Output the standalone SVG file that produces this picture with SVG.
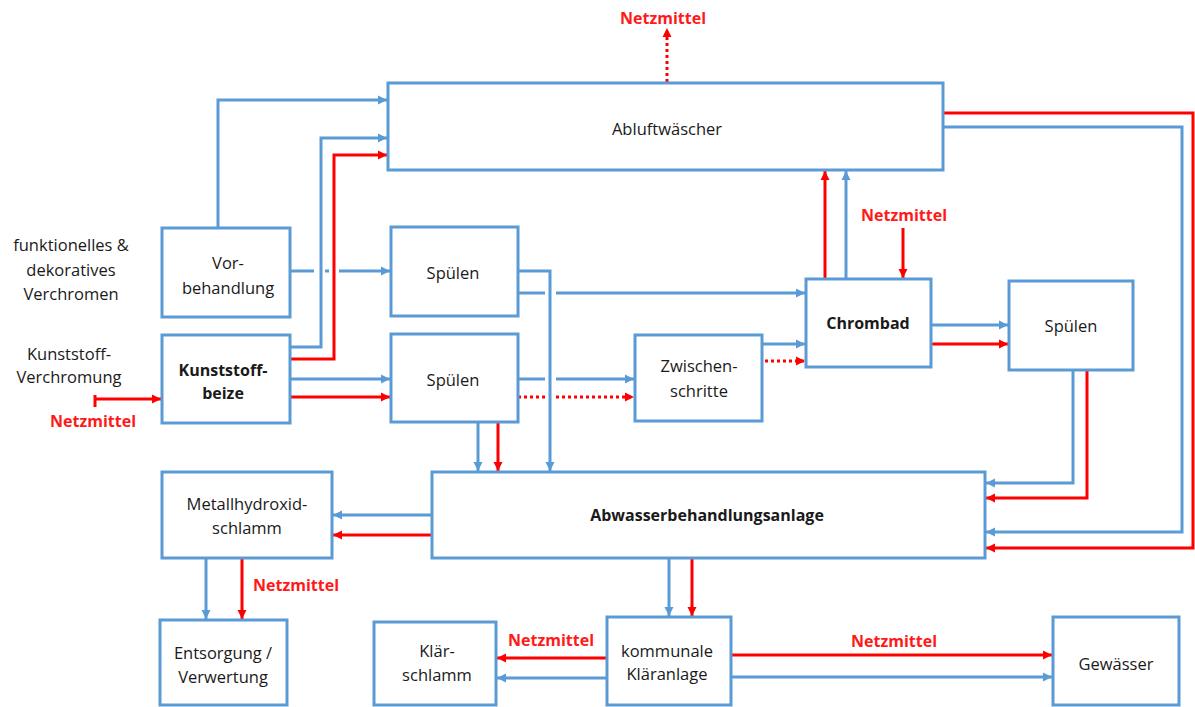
<svg xmlns="http://www.w3.org/2000/svg" width="1195" height="707" viewBox="0 0 1195 707">
<style>
.box{fill:#fff;stroke:#5B9BD5;stroke-width:3}
.t{font-family:"Open Sans","Noto Sans",sans-serif;font-size:16.5px;fill:#1a1a1a;text-anchor:middle;dominant-baseline:central}
.b{font-weight:bold;font-size:16px}
.n{font-family:"Open Sans","Noto Sans",sans-serif;font-size:16px;font-weight:bold;fill:#FF1A1A;text-anchor:middle;dominant-baseline:central}
.bl{fill:none;stroke:#5B9BD5;stroke-width:3}
.rd{fill:none;stroke:#FF0000;stroke-width:3}
.dot{stroke-dasharray:3,3}
.ab{marker-end:url(#ab)}
.ar{marker-end:url(#ar)}
</style>
<defs>
<marker id="ab" markerUnits="userSpaceOnUse" markerWidth="10" markerHeight="10" refX="9" refY="5" orient="auto"><path d="M0,0.5 L9,5 L0,9.5 z" fill="#5B9BD5"/></marker>
<marker id="ar" markerUnits="userSpaceOnUse" markerWidth="10" markerHeight="10" refX="9" refY="5" orient="auto"><path d="M0,0.5 L9,5 L0,9.5 z" fill="#FF0000"/></marker>
</defs>
<rect width="1195" height="707" fill="#fff"/>

<g id="connectors">
<path class="bl ab" d="M218,228 V100 H387"/>
<path class="bl ab" d="M290,347 H321 V138 H387"/>
<path class="rd ar" d="M290,359 H334 V155 H387"/>
<path class="bl" d="M290,271 H314 M325,271 H329"/>
<path class="bl ab" d="M339,271 H390"/>
<path class="bl ab" d="M290,379 H390"/>
<path class="rd ar" d="M290,397 H390"/>
<path class="rd" d="M95,395 V407"/>
<path class="rd ar" d="M95,399 H161"/>
<path class="bl ab" d="M518,271 H550 V471"/>
<path class="bl" d="M518,293 H545"/>
<path class="bl ab" d="M556,293 H805"/>
<path class="bl" d="M518,379 H545"/>
<path class="bl ab" d="M556,379 H634"/>
<path class="rd dot" d="M518,397 H545"/>
<path class="rd dot ar" d="M556,397 H634"/>
<path class="bl ab" d="M478,422 V471"/>
<path class="rd ar" d="M498,422 V471"/>
<path class="bl ab" d="M762,344 H805"/>
<path class="rd dot ar" d="M765,361 H805"/>
<path class="rd ar" d="M825,279 V171"/>
<path class="bl ab" d="M846,279 V171"/>
<path class="rd ar" d="M903,228 V278"/>
<path class="bl ab" d="M930,325 H1008"/>
<path class="rd ar" d="M930,344 H1008"/>
<path class="bl ab" d="M1073,370 V483 H986"/>
<path class="rd ar" d="M1087,370 V498 H986"/>
<path class="rd ar" d="M943,113 H1193 V548 H986"/>
<path class="bl ab" d="M943,127 H1182 V532 H986"/>
<path class="rd dot ar" d="M667,82 V28"/>
<path class="bl ab" d="M431,515 H333"/>
<path class="rd ar" d="M431,535 H333"/>
<path class="bl ab" d="M206,558 V619"/>
<path class="rd ar" d="M242,558 V619"/>
<path class="bl ab" d="M669,558 V616"/>
<path class="rd ar" d="M692,558 V616"/>
<path class="rd ar" d="M607,658 H497"/>
<path class="bl ab" d="M607,678 H497"/>
<path class="rd ar" d="M731,655 H1052"/>
<path class="bl ab" d="M731,677 H1052"/>
</g>

<g id="labels">
<text class="t" x="71" y="244">funktionelles &amp;</text>
<text class="t" x="71" y="269">dekoratives</text>
<text class="t" x="71" y="293">Verchromen</text>
<text class="t" x="69" y="353">Kunststoff-</text>
<text class="t" x="69" y="376">Verchromung</text>
<text class="n" x="93" y="421">Netzmittel</text>
<text class="n" x="663" y="18">Netzmittel</text>
<text class="n" x="904" y="215">Netzmittel</text>
<text class="n" x="296" y="585">Netzmittel</text>
<text class="n" x="551" y="640">Netzmittel</text>
<text class="n" x="894" y="641">Netzmittel</text>
</g>

<g id="abluft"><rect class="box" x="388" y="83" width="555" height="87"/><text class="t" x="667" y="128">Abluftwäscher</text></g>
<g id="vorbehandlung"><rect class="box" x="162" y="228" width="128" height="89"/><text class="t" x="228" y="262">Vor-</text><text class="t" x="228" y="287">behandlung</text></g>
<g id="kunststoffbeize"><rect class="box" x="162" y="335" width="128" height="88"/><text class="t b" x="223" y="370">Kunststoff-</text><text class="t b" x="223" y="393">beize</text></g>
<g id="spuelen1"><rect class="box" x="391" y="227" width="127" height="89"/><text class="t" x="453" y="272">Spülen</text></g>
<g id="spuelen2"><rect class="box" x="391" y="334" width="127" height="88"/><text class="t" x="453" y="379">Spülen</text></g>
<g id="zwischen"><rect class="box" x="635" y="335" width="127" height="86"/><text class="t" x="699" y="365">Zwischen-</text><text class="t" x="699" y="390">schritte</text></g>
<g id="chrombad"><rect class="box" x="806" y="279" width="125" height="88"/><text class="t b" x="868" y="323">Chrombad</text></g>
<g id="spuelen3"><rect class="box" x="1009" y="281" width="124" height="89"/><text class="t" x="1071" y="325">Spülen</text></g>
<g id="abwasser"><rect class="box" x="432" y="472" width="553" height="86"/><text class="t b" x="707" y="515">Abwasserbehandlungsanlage</text></g>
<g id="metall"><rect class="box" x="162" y="472" width="170" height="86"/><text class="t" x="247" y="503">Metallhydroxid-</text><text class="t" x="247" y="527">schlamm</text></g>
<g id="entsorgung"><rect class="box" x="160" y="620" width="127" height="85"/><text class="t" x="223" y="652">Entsorgung /</text><text class="t" x="223" y="676">Verwertung</text></g>
<g id="klaerschlamm"><rect class="box" x="374" y="622" width="122" height="83"/><text class="t" x="437" y="650">Klär-</text><text class="t" x="437" y="674">schlamm</text></g>
<g id="klaeranlage"><rect class="box" x="607" y="617" width="124" height="88"/><text class="t" x="667" y="650">kommunale</text><text class="t" x="667" y="673">Kläranlage</text></g>
<g id="gewaesser"><rect class="box" x="1053" y="617" width="126" height="88"/><text class="t" x="1116" y="663">Gewässer</text></g>
</svg>
